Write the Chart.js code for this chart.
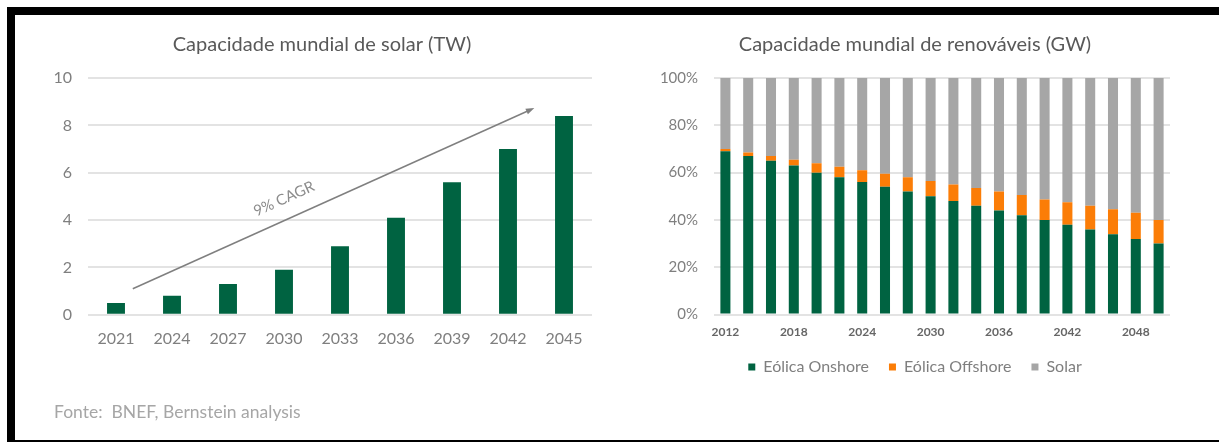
<!DOCTYPE html>
<html>
<head>
<meta charset="utf-8">
<script src="https://cdn.jsdelivr.net/npm/chart.js@4.4.1/dist/chart.umd.min.js"></script>
<style>
  html, body { margin: 0; padding: 0; background: #fff; overflow: hidden; }
  body { width: 1219px; height: 442px; position: relative; font-family: Lato, sans-serif; }
  #moldura { position: absolute; left: 7px; top: 7px; width: 1230px; height: 425px;
    border-top: 8px solid #000; border-left: 8px solid #000; border-bottom: 2px solid #000; }
  .box { position: absolute; top: 15px; height: 423px; }
  #boxSolar { left: 15px; width: 600px; }
  #boxRenov { left: 615px; width: 604px; }
  #fonte { position: absolute; left: 54px; top: 403px; font-size: 17.5px; line-height: 1; color: #a6a6a6; white-space: pre; }
</style>
</head>
<body>
<div id="moldura"></div>
<div class="box" id="boxSolar"><canvas id="solar"></canvas></div>
<div class="box" id="boxRenov"><canvas id="renovaveis"></canvas></div>
<div id="fonte">Fonte:  BNEF, Bernstein analysis</div>

<script>
//SOLAR CAPACITY (TW)
const solarYears = ['2021', '2024', '2027', '2030', '2033', '2036', '2039', '2042', '2045'];
const solarCapacity = [0.5, 0.8, 1.3, 1.9, 2.9, 4.1, 5.6, 7.0, 8.4];
const solarTicks = [0, 2, 4, 6, 8, 10];

//CAGR ARROW (category index, TW)
const cagrFrom = [0.3, 1.1];
const cagrTo = [7.47, 8.73];
const cagrLabel = '9% CAGR';
const cagrLabelAt = [3.0, 4.9];

//RENEWABLES MIX (% SHARE)
const renovYears = ['2012', '2014', '2016', '2018', '2020', '2022', '2024', '2026', '2028', '2030',
  '2032', '2034', '2036', '2038', '2040', '2042', '2044', '2046', '2048', '2050'];
const eolicaOnshore = [69, 67, 65, 63, 60, 58, 56, 54, 52, 50, 48, 46, 44, 42, 40, 38, 36, 34, 32, 30];
const eolicaOffshore = [1, 1.5, 2, 2.5, 4, 4.5, 5, 5.5, 6, 6.5, 7, 7.5, 8, 8.5, 8.7, 9.5, 10, 10.5, 11, 10];
const solarShare = [30, 31.5, 33, 34.5, 36, 37.5, 39, 40.5, 42, 43.5, 45, 46.5, 48, 49.5, 51.3, 52.5, 54, 55.5, 57, 60];

const VERDE = '#006341';
const LARANJA = '#fb7d07';
const CINZA = '#a6a6a6';
const FONTE = 'Lato';

Chart.defaults.font.family = FONTE;
Chart.defaults.animation = false;

//ARROW + LABEL OVER THE SOLAR BARS
const cagrArrow = {
  id: 'cagrArrow',
  afterDatasetsDraw(chart) {
    const { ctx, scales: { x, y } } = chart;
    const x1 = x.getPixelForValue(cagrFrom[0]), y1 = y.getPixelForValue(cagrFrom[1]);
    const x2 = x.getPixelForValue(cagrTo[0]), y2 = y.getPixelForValue(cagrTo[1]);
    const ang = Math.atan2(y2 - y1, x2 - x1);
    const head = 9;

    ctx.save();
    ctx.strokeStyle = '#7f7f7f';
    ctx.fillStyle = '#7f7f7f';
    ctx.lineWidth = 1.5;
    ctx.beginPath();
    ctx.moveTo(x1, y1);
    ctx.lineTo(x2 - Math.cos(ang) * head * 0.8, y2 - Math.sin(ang) * head * 0.8);
    ctx.stroke();
    ctx.beginPath();
    ctx.moveTo(x2, y2);
    ctx.lineTo(x2 - head * Math.cos(ang - 0.35), y2 - head * Math.sin(ang - 0.35));
    ctx.lineTo(x2 - head * Math.cos(ang + 0.35), y2 - head * Math.sin(ang + 0.35));
    ctx.closePath();
    ctx.fill();

    ctx.translate(x.getPixelForValue(cagrLabelAt[0]), y.getPixelForValue(cagrLabelAt[1]));
    ctx.rotate(ang);
    ctx.font = '15px ' + FONTE;
    ctx.fillStyle = '#8c8c8c';
    ctx.textAlign = 'center';
    ctx.textBaseline = 'middle';
    ctx.fillText(cagrLabel, 0, 0);
    ctx.restore();
  }
};

//LEFT CHART
function handleSolarChart() {
  const cvx = document.getElementById('solar');
  new Chart(cvx, {
    type: 'bar',
    data: {
      labels: solarYears,
      datasets: [{
        label: 'Capacidade solar (TW)',
        data: solarCapacity,
        backgroundColor: VERDE,
        barPercentage: 0.64,
        categoryPercentage: 0.5
      }]
    },
    options: {
      responsive: true,
      maintainAspectRatio: false,
      layout: { padding: { left: 37, right: 23, top: 0, bottom: 76 } },
      plugins: {
        legend: { display: false },
        tooltip: { enabled: false },
        title: {
          display: true,
          text: 'Capacidade mundial de solar (TW)',
          color: '#595959',
          font: { size: 20, weight: 'normal' },
          padding: { top: 18, bottom: 21 }
        }
      },
      scales: {
        x: {
          grid: { display: false, drawTicks: false },
          border: { display: false },
          ticks: { color: '#7f7f7f', font: { size: 16 }, padding: 14 }
        },
        y: {
          min: 0,
          max: 10,
          afterBuildTicks: (scale) => { scale.ticks = solarTicks.map(v => ({ value: v })) },
          afterFit: (scale) => { scale.width = 36 },
          grid: { color: '#e3e3e3', lineWidth: 2, drawTicks: false },
          border: { display: false },
          ticks: { color: '#7f7f7f', font: { size: 16 }, padding: 16 }
        }
      }
    },
    plugins: [cagrArrow]
  });
}

//RIGHT CHART
function handleRenovChart() {
  const cvx = document.getElementById('renovaveis');
  const serie = (label, data, color) => ({
    label, data, backgroundColor: color, borderWidth: 0,
    barPercentage: 0.88, categoryPercentage: 0.5
  });

  new Chart(cvx, {
    type: 'bar',
    data: {
      labels: renovYears,
      datasets: [
        serie('Eólica Onshore', eolicaOnshore, VERDE),
        serie('Eólica Offshore', eolicaOffshore, LARANJA),
        serie('Solar', solarShare, CINZA)
      ]
    },
    options: {
      responsive: true,
      maintainAspectRatio: false,
      layout: { padding: { left: 45, right: 49, top: 0, bottom: 53 } },
      plugins: {
        tooltip: { enabled: false },
        title: {
          display: true,
          text: 'Capacidade mundial de renováveis (GW)',
          color: '#595959',
          font: { size: 20, weight: 'normal' },
          padding: { top: 18, bottom: 21 }
        },
        legend: {
          position: 'bottom',
          labels: {
            boxWidth: 7,
            boxHeight: 7,
            padding: 20,
            color: '#7f7f7f',
            font: { size: 16 }
          }
        }
      },
      scales: {
        x: {
          stacked: true,
          grid: { display: false, drawTicks: false },
          border: { display: false },
          afterFit: (scale) => { scale.height = 24.4 },
          ticks: {
            color: '#666666',
            font: { size: 12, weight: 'bold' },
            padding: 10,
            autoSkip: false,
            maxRotation: 0,
            callback: function (val, idx) { return idx % 3 === 0 ? this.getLabelForValue(val) : '' }
          }
        },
        y: {
          stacked: true,
          min: 0,
          max: 100,
          afterFit: (scale) => { scale.width = 54 },
          grid: { color: '#e3e3e3', lineWidth: 2, drawTicks: false },
          border: { display: false },
          ticks: { stepSize: 20, color: '#7f7f7f', font: { size: 15 }, padding: 16, callback: (v) => v + '%' }
        }
      }
    }
  });
}

document.addEventListener('DOMContentLoaded', () => {
  handleSolarChart()
  handleRenovChart()
});
</script>
</body>
</html>
